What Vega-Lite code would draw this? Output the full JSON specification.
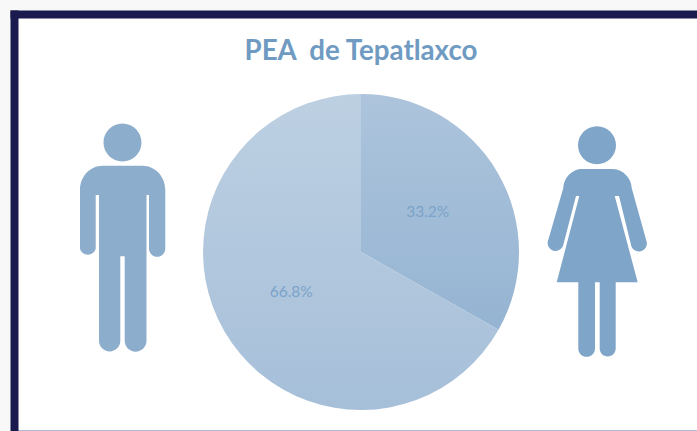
{
"$schema":"https://vega.github.io/schema/vega-lite/v6.json",
"width":683,"height":416,
"autosize":{"type":"none"},
"padding":{"left":14,"top":14,"right":0,"bottom":1},
"background":"#f8f8f8",
"view":{"fill":"#ffffff","stroke":null},
"title":{"text":"PEA\u00a0 de Tepatlaxco","font":"Lato","fontWeight":"bold","fontSize":27.7,"color":"#6f9bc3","anchor":"middle","frame":"group","dx":5.5,"dy":84,"baseline":"bottom"},
"datasets":{"pea":[
{"figura":"PEA","grupo":"Mujeres","valor":33.2,"etiqueta":"33.2%"},
{"figura":"PEA","grupo":"Hombres","valor":66.8,"etiqueta":"66.8%"}
]},
"encoding":{
"x":{"field":"figura","type":"nominal","scale":{"type":"point","padding":0,"domain":["Hombres","PEA","Mujeres"],"range":[108.5,585.5]},"axis":null},
"y":{"field":"figura","type":"nominal","scale":{"type":"point","padding":0,"domain":["Hombres","PEA","Mujeres"],"range":[238,238]},"axis":null}
},
"layer":[
{"data":{"values":[{"marco":"PEA"}]},
"mark":{"type":"point","opacity":0},
"encoding":{
"x":{"datum":0,"type":"quantitative","scale":{"domain":[0,1]},"axis":{"orient":"top","title":null,"ticks":false,"labels":false,"grid":false,"domain":true,"domainColor":"#1a1a4e","domainWidth":8,"domainCap":"square"}},
"y":{"datum":0,"type":"quantitative","scale":{"domain":[0,1]},"axis":{"orient":"left","title":null,"ticks":false,"labels":false,"values":[0],"grid":true,"gridColor":"#b4b8d4","gridWidth":1,"domain":true,"domainColor":"#1a1a4e","domainWidth":8,"domainCap":"square"}}
}},
{"data":{"values":[{"figura":"Hombres"}]},
"mark":{"type":"point","filled":true,"size":4,"opacity":1,"color":"#8cadcc","yOffset":-12,"shape":"M-20,-74.3 L20,-74.3 A22.8,24.3 0 0 1 42.8,-50 L42.8,8.7 A8.15,8.15 0 0 1 26.5,8.7 L26.5,-45 L24,-45 L24,100.8 A10.9,10.9 0 0 1 2.2,100.8 L2.2,16.3 L-2.2,16.3 L-2.2,100.8 A10.65,10.65 0 0 1 -23.5,100.8 L-23.5,-45 L-26.8,-45 L-26.8,8.7 A8.15,8.15 0 0 1 -42.5,8.7 L-42.5,-50 A22.5,24.3 0 0 1 -20,-74.3 Z M-19,-97.5 A19,19 0 1 1 19,-97.5 A19,19 0 1 1 -19,-97.5 Z"}},
{"data":{"values":[{"figura":"Mujeres"}]},
"mark":{"type":"point","filled":true,"size":4,"opacity":1,"color":"#7fa5c9","xOffset":-2.5,"yOffset":-12,"shape":"M-17,-71 L16,-71 A20,20 0 0 1 34.7,-52 L49.7,1.9 A8,8 0 0 1 34.3,6.1 L22,-44 L17.7,-44 L40.7,42.3 L18.7,42.3 L18.7,108.5 A8,8 0 0 1 2.7,108.5 L2.7,42.3 L-2,42.3 L-2,108.5 A8.35,8.35 0 0 1 -18.7,108.5 L-18.7,42.3 L-40.3,42.3 L-17.7,-44 L-21,-44 L-34,6.1 A8,8 0 0 1 -49.3,1.9 L-33.7,-52 A20,20 0 0 1 -17,-71 Z M-19,-94.7 A19,19 0 1 1 19,-94.7 A19,19 0 1 1 -19,-94.7 Z"}},
{"data":{"name":"pea"},
"mark":{"type":"arc","outerRadius":158,"innerRadius":0},
"encoding":{
"theta":{"field":"valor","type":"quantitative","stack":true,"scale":{"domain":[0,100]}},
"order":{"field":"valor","type":"quantitative"},
"detail":{"field":"grupo"},
"fill":{"condition":{"test":"datum.grupo === 'Mujeres'","value":{"gradient":"linear","x1":0,"y1":0,"x2":0,"y2":1,"stops":[{"offset":0,"color":"#adc4dc"},{"offset":1,"color":"#95b4d2"}]}},"value":{"gradient":"linear","x1":0,"y1":0,"x2":0,"y2":1,"stops":[{"offset":0,"color":"#bdd0e2"},{"offset":1,"color":"#a6bfd9"}]}}
}},
{"data":{"name":"pea"},
"mark":{"type":"text","radius":79,"xOffset":-1.5,"font":"Lato","fontSize":15.5,"color":"#7aa3c9"},
"encoding":{
"theta":{"field":"valor","type":"quantitative","stack":true,"scale":{"domain":[0,100]}},
"order":{"field":"valor","type":"quantitative"},
"detail":{"field":"grupo"},
"text":{"field":"etiqueta"}
}}
],
"resolve":{"scale":{"x":"independent","y":"independent","theta":"shared"},"axis":{"x":"independent","y":"independent"}}
}
